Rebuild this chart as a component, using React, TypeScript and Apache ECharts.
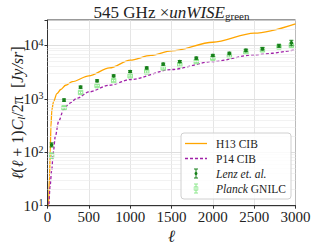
import React, { useEffect, useRef } from 'react';
import * as echarts from 'echarts';

const h13L = [5, 12, 24, 33, 41, 53, 73, 114, 160, 220, 300, 500, 750, 1000, 1250, 1500, 2000, 2500, 3000];
const h13V = [1.5, 10, 35, 97, 300, 630, 890, 1250, 1500, 1800, 2100, 2700, 3800, 5300, 6500, 7900, 11500, 17000, 25500];

const p14L = [5, 15, 30, 50, 70, 95, 135, 195, 260, 360, 500, 750, 1000, 1500, 2000, 2500, 3000];
const p14V = [1, 10, 22, 45, 100, 200, 380, 630, 820, 1030, 1350, 1800, 2300, 3550, 5000, 6700, 8300];

const binL = [50, 200, 400, 600, 800, 1000, 1200, 1400, 1600, 1800, 2000, 2200, 2400, 2600, 2800, 2950];
const lenzV = [138, 950, 1660, 2180, 2700, 3250, 3800, 4480, 5000, 5800, 6500, 7100, 8100, 8700, 9900, 11200];
const lenzE = [12, 50, 80, 100, 120, 140, 170, 200, 230, 270, 320, 380, 450, 520, 650, 1300];
const planckV = [87, 680, 1320, 1780, 2200, 2700, 3200, 3800, 4350, 5000, 5800, 6400, 7600, 8300, 9400, 10000];
const planckE = [10, 40, 70, 90, 110, 130, 160, 190, 220, 250, 300, 340, 400, 450, 520, 700];

const minorY = [20, 30, 40, 50, 60, 70, 80, 90, 200, 300, 400, 500, 600, 700, 800, 900, 2000, 3000, 4000, 5000, 6000, 7000, 8000, 9000, 20000];

const legendNames = ['H13 CIB', 'P14 CIB', 'Lenz et. al.', 'Planck GNILC'];

const SERIF = '"Liberation Serif", "DejaVu Serif", serif';
const ORANGE = '#FFA500';
const PURPLE = '#a020a8';
const DGREEN = '#17801a';
const LGREEN = '#8ee88e';

function errItem(color: string, cap: number, symbol: 'dot' | 'rect') {
  return (params: any, api: any) => {
    const x = api.value(0);
    const c = api.coord([x, api.value(1)]);
    const lo = api.coord([x, api.value(2)]);
    const hi = api.coord([x, api.value(3)]);
    const st = { stroke: color, lineWidth: 1 };
    const children: any[] = [
      { type: 'line', shape: { x1: c[0], y1: lo[1], x2: c[0], y2: hi[1] }, style: st },
      { type: 'line', shape: { x1: c[0] - cap, y1: lo[1], x2: c[0] + cap, y2: lo[1] }, style: st },
      { type: 'line', shape: { x1: c[0] - cap, y1: hi[1], x2: c[0] + cap, y2: hi[1] }, style: st },
    ];
    if (symbol === 'dot') {
      children.push({ type: 'circle', shape: { cx: c[0], cy: c[1], r: 1.8 }, style: { fill: color } });
    } else {
      children.push({ type: 'rect', shape: { x: c[0] - 2.2, y: c[1] - 2.2, width: 4.4, height: 4.4 }, style: { fill: 'none', stroke: color, lineWidth: 1 } });
    }
    return { type: 'group', children };
  };
}

export default function App() {
  const ref = useRef<HTMLDivElement>(null);
  useEffect(() => {
    if (!ref.current) return;
    const chart = echarts.init(ref.current, null, { renderer: 'svg' });
    const lx = 181, ly = 133;
    const rowY = [ly + 10.5, ly + 25.5, ly + 40.5, ly + 55.5];
    const legendGraphics: any[] = [
      { type: 'rect', z: 100, shape: { x: lx, y: ly, width: 110, height: 66, r: 3 }, style: { fill: 'rgba(255,255,255,0.85)', stroke: '#d0d0d0', lineWidth: 1 } },
      { type: 'line', z: 101, shape: { x1: lx + 4, y1: rowY[0], x2: lx + 26, y2: rowY[0] }, style: { stroke: ORANGE, lineWidth: 1.3 } },
      { type: 'line', z: 101, shape: { x1: lx + 4, y1: rowY[1], x2: lx + 26, y2: rowY[1] }, style: { stroke: PURPLE, lineWidth: 1.3, lineDash: [3, 2] } },
    ];
    const errIcon = (y: number, color: string, sym: 'dot' | 'rect') => {
      const cx = lx + 15;
      const els: any[] = [
        { type: 'line', z: 101, shape: { x1: cx, y1: y - 4.5, x2: cx, y2: y + 4.5 }, style: { stroke: color, lineWidth: 1 } },
        { type: 'line', z: 101, shape: { x1: cx - 2, y1: y - 4.5, x2: cx + 2, y2: y - 4.5 }, style: { stroke: color, lineWidth: 1 } },
        { type: 'line', z: 101, shape: { x1: cx - 2, y1: y + 4.5, x2: cx + 2, y2: y + 4.5 }, style: { stroke: color, lineWidth: 1 } },
      ];
      if (sym === 'dot') els.push({ type: 'circle', z: 101, shape: { cx, cy: y, r: 1.5 }, style: { fill: color } });
      else els.push({ type: 'rect', z: 101, shape: { x: cx - 1.8, y: y - 1.8, width: 3.6, height: 3.6 }, style: { fill: 'none', stroke: color, lineWidth: 0.8 } });
      return els;
    };
    legendGraphics.push(...errIcon(rowY[2], DGREEN, 'dot'));
    legendGraphics.push(...errIcon(rowY[3], LGREEN, 'rect'));
    const legendTexts = [
      `{r|${legendNames[0]}}`,
      `{r|${legendNames[1]}}`,
      `{i|${legendNames[2]}}`,
      `{i|Planck}{r| GNILC}`,
    ];
    legendTexts.forEach((t, i) => {
      legendGraphics.push({
        type: 'text', z: 101, x: lx + 35, y: rowY[i],
        style: {
          text: t, verticalAlign: 'middle', align: 'left', fill: '#222',
          rich: {
            r: { fontFamily: SERIF, fontSize: 11.5, fill: '#222' },
            i: { fontFamily: SERIF, fontSize: 11.5, fontStyle: 'italic', fill: '#222' },
          },
        },
      });
    });

    const option: any = {
      animation: false,
      backgroundColor: '#fff',
      grid: {
        left: 47.5, right: 19.5, top: 20, bottom: 39.3, show: true,
        borderColor: '#333', borderWidth: 1, backgroundColor: 'transparent',
        containLabel: false, outerBoundsMode: 'none',
      },
      graphic: [
        {
          type: 'text', x: 171.5, y: 12, z: 100,
          style: {
            text: '{a|545 GHz ×}{b|unWISE}{c|green}', align: 'center', verticalAlign: 'middle',
            rich: {
              a: { fontFamily: SERIF, fontSize: 17, fill: '#222', lineHeight: 19 },
              b: { fontFamily: SERIF, fontSize: 17, fontStyle: 'italic', fill: '#222', lineHeight: 19 },
              c: { fontFamily: SERIF, fontSize: 11, fill: '#222', verticalAlign: 'bottom', lineHeight: 12 },
            },
          },
        },
        ...legendGraphics,
      ],
      xAxis: {
        type: 'value', min: 0, max: 3000, interval: 500,
        name: 'ℓ', nameLocation: 'middle', nameGap: 22, nameMoveOverlap: false,
        nameTextStyle: { fontFamily: SERIF, fontSize: 17, fontStyle: 'italic', color: '#222' },
        axisLine: { show: true, lineStyle: { color: '#333', width: 1 } },
        axisTick: { show: true, length: 3, lineStyle: { color: '#333' } },
        axisLabel: { fontFamily: SERIF, fontSize: 15, color: '#222', margin: 4, formatter: (v: number) => String(v) },
        splitLine: { show: true, lineStyle: { color: '#dedede', width: 0.8 } },
      },
      yAxis: {
        type: 'log', logBase: 10, min: 10, max: 30000,
        name: '{i|ℓ}{r|(}{i|ℓ}{r| + 1)}{i|C}{s|l}{r|/2π  [}{i|Jy/sr}{r|]}',
        nameLocation: 'middle', nameGap: 21, nameRotate: 90, nameMoveOverlap: false,
        nameTextStyle: {
          rich: {
            i: { fontFamily: SERIF, fontSize: 16, fontStyle: 'italic', color: '#222', lineHeight: 18 },
            r: { fontFamily: SERIF, fontSize: 16, color: '#222', lineHeight: 18 },
            s: { fontFamily: SERIF, fontSize: 11, fontStyle: 'italic', color: '#222', verticalAlign: 'bottom', lineHeight: 12 },
          },
        },
        axisLine: { show: true, lineStyle: { color: '#333', width: 1 } },
        axisTick: { show: true, length: 3, lineStyle: { color: '#333' } },
        axisLabel: {
          margin: 4,
          formatter: (v: number) => {
            const n = Math.round(Math.log10(v));
            if (Math.abs(Math.log10(v) - n) > 1e-6) return '';
            return `{a|10}{b|${n}}`;
          },
          rich: {
            a: { fontFamily: SERIF, fontSize: 15, color: '#222', lineHeight: 16 },
            b: { fontFamily: SERIF, fontSize: 10, color: '#222', verticalAlign: 'top', lineHeight: 12 },
          },
        },
        splitLine: { show: true, lineStyle: { color: '#d6d6d6', width: 0.8 } },
      },
      series: [
        {
          type: 'line', data: [], z: 1, silent: true,
          markLine: {
            silent: true, symbol: 'none', label: { show: false },
            lineStyle: { color: '#ececec', width: 0.7, type: 'solid' },
            data: minorY.map((v) => ({ yAxis: v })),
          },
        },
        {
          name: legendNames[0], type: 'line', data: h13L.map((l, i) => [l, h13V[i]]),
          showSymbol: false, smooth: 0.3, smoothMonotone: 'x',
          lineStyle: { color: ORANGE, width: 1.3 }, z: 3,
        },
        {
          name: legendNames[1], type: 'line', data: p14L.map((l, i) => [l, p14V[i]]),
          showSymbol: false, smooth: 0.3, smoothMonotone: 'x',
          lineStyle: { color: PURPLE, width: 1.3, type: [3, 2] }, z: 3,
        },
        {
          name: legendNames[3], type: 'custom', z: 4,
          renderItem: errItem(LGREEN, 2, 'rect'),
          data: binL.map((l, i) => [l, planckV[i], planckV[i] - planckE[i], planckV[i] + planckE[i]]),
          encode: { x: 0, y: 1 },
        },
        {
          name: legendNames[2], type: 'custom', z: 5,
          renderItem: errItem(DGREEN, 2, 'dot'),
          data: binL.map((l, i) => [l, lenzV[i], lenzV[i] - lenzE[i], lenzV[i] + lenzE[i]]),
          encode: { x: 0, y: 1 },
        },
      ],
    };
    chart.setOption(option);
    return () => chart.dispose();
  }, []);
  return <div ref={ref} style={{ width: 315, height: 245, position: 'absolute', left: 0, top: 0 }} />;
}
